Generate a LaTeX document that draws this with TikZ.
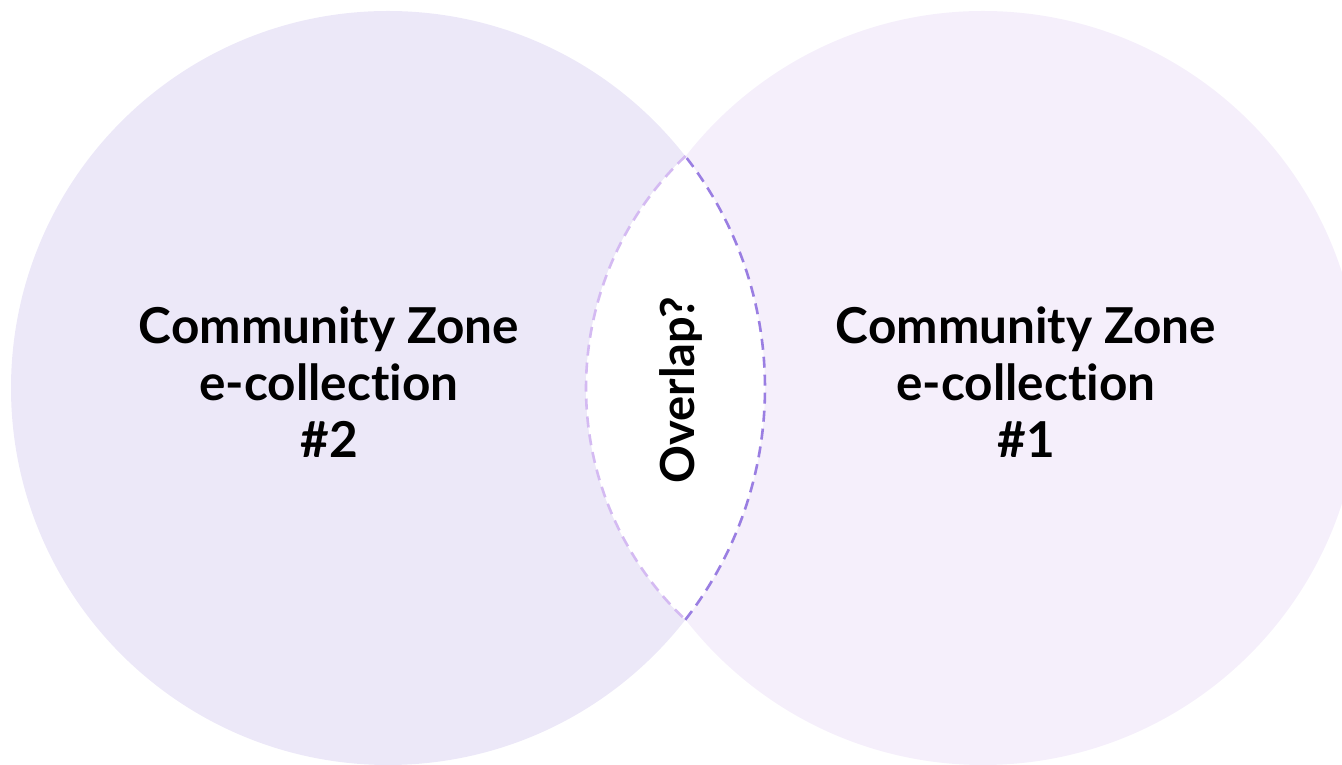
\documentclass[tikz,border=0pt]{standalone}
\usepackage{fontspec}
\setmainfont[Ligatures=NoCommon]{Lato}
\definecolor{leftfill}{HTML}{ECE8F8}
\definecolor{rightfill}{HTML}{F5EFFB}
\definecolor{dashlight}{HTML}{D4BAF2}
\definecolor{dashdark}{HTML}{9A7EE2}
\tikzset{
  zone/.style={circle, inner sep=0pt, minimum size=754pt, draw=none},
  label/.style={align=center, font=\fontsize{49.5}{57}\selectfont\bfseries, text=black},
  ovlabel/.style={font=\fontsize{47}{57}\selectfont\bfseries, text=black},
  lensline/.style={line width=2.6pt, dash pattern=on 11pt off 7pt},
}
\begin{document}
\begin{tikzpicture}[x=1pt,y=1pt]
\useasboundingbox (0,0) rectangle (1342,765);
\clip (0,0) rectangle (1342,765);
\node[zone, fill=leftfill] (zl) at (388,377) {};
\node[zone, fill=rightfill] (zr) at (983,377) {};
% lens (white)
\begin{scope}
  \clip (388,377) circle (377);
  \fill[white] (906.2,377) circle (320.2);
\end{scope}
% lens borders
\draw[lensline, draw=dashlight] (906.2,377) ++(133.57:320.2) arc (133.57:226.43:320.2);
\draw[lensline, draw=dashdark] (388,377) ++(-37.95:377) arc (-37.95:37.95:377);
\node[label] (t2) at (329,383) {Community Zone\\e-collection\\\#2};
\node[label] (t1) at (1026,383) {Community Zone\\e-collection\\\#1};
\node[ovlabel, rotate=90] (ov) at (681,375) {Overlap?};
\end{tikzpicture}
\end{document}
